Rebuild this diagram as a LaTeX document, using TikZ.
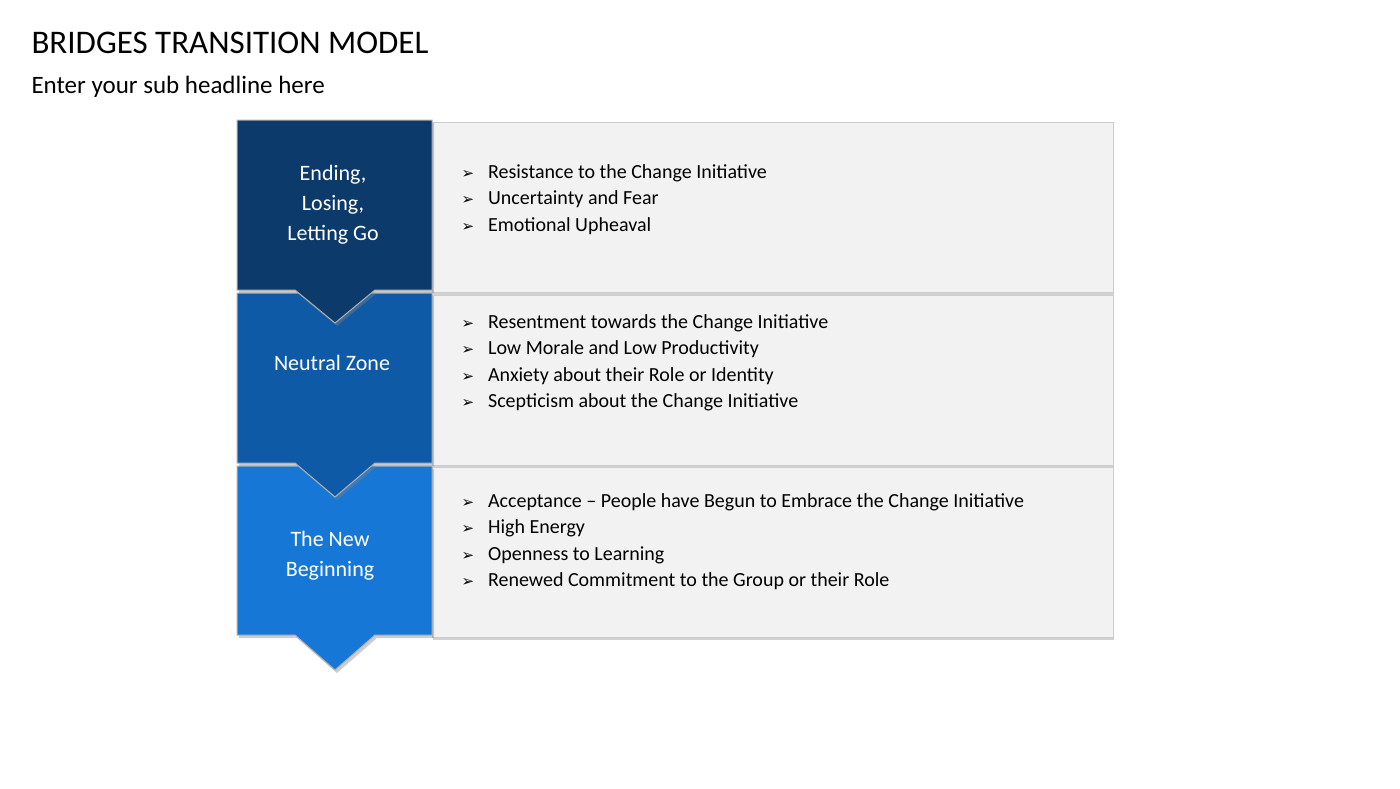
\documentclass[tikz,border=0pt]{standalone}
\usepackage{fontspec}
\setmainfont{Carlito}
\newfontfamily\dv{DejaVu Sans}
\usetikzlibrary{shadows}
\definecolor{cA}{HTML}{0B3A6B}
\definecolor{cB}{HTML}{0F5AA6}
\definecolor{cC}{HTML}{1777D6}
\definecolor{gbox}{HTML}{F2F2F2}
\newcommand{\bul}{{\dv\fontsize{15}{18}\selectfont ➢}\hspace{14pt}}
\begin{document}
\begin{tikzpicture}[x=1pt,y=-1pt,
 panel/.style={fill=gbox,draw=gray!40,line width=0.6pt,drop shadow={shadow xshift=1pt,shadow yshift=-3pt,opacity=0.35}},
 chev/.style={draw=gray!60,line width=1pt,drop shadow={shadow xshift=2pt,shadow yshift=-3pt,opacity=0.4}},
 lab/.style={text=white,font=\fontsize{22}{30}\selectfont,align=center},
 list/.style={anchor=north west,font=\fontsize{20}{26.3}\selectfont,align=left}]
\useasboundingbox (0,0) rectangle (1400,788);
\fill[white] (0,0) rectangle (1400,788);
\node[anchor=west,font=\fontsize{33}{36}\selectfont] (title) at (28,43) {BRIDGES TRANSITION MODEL};
\node[anchor=west,font=\fontsize{25}{28}\selectfont] (sub) at (28,87) {Enter your sub headline here};
% panels
\draw[panel] (432,122) rectangle (1113,292);
\draw[panel] (432,295) rectangle (1113,465);
\draw[panel] (432,467) rectangle (1113,637);
% chevrons
\draw[chev,fill=cC] (237,466) -- (432,466) -- (432,635) -- (375,635) -- (335,670) -- (295,635) -- (237,635) -- cycle;
\draw[chev,fill=cB] (237,293) -- (432,293) -- (432,463) -- (375,463) -- (335,497) -- (295,463) -- (237,463) -- cycle;
\draw[chev,fill=cA] (237,120) -- (432,120) -- (432,290) -- (375,290) -- (335,323) -- (295,290) -- (237,290) -- cycle;
\node[lab] (l1) at (333,205) {Ending,\\Losing,\\Letting Go};
\node[lab] (l2) at (332,363) {Neutral Zone};
\node[lab] (l3) at (330,556) {The New\\Beginning};
\node[list] (t1) at (458,161) {\bul Resistance to the Change Initiative\\\bul Uncertainty and Fear\\\bul Emotional Upheaval};
\node[list] (t2) at (458,311) {\bul Resentment towards the Change Initiative\\\bul Low Morale and Low Productivity\\\bul Anxiety about their Role or Identity\\\bul Scepticism about the Change Initiative};
\node[list] (t3) at (458,490) {\bul Acceptance -- People have Begun to Embrace the Change Initiative\\\bul High Energy\\\bul Openness to Learning\\\bul Renewed Commitment to the Group or their Role};
\end{tikzpicture}
\end{document}
